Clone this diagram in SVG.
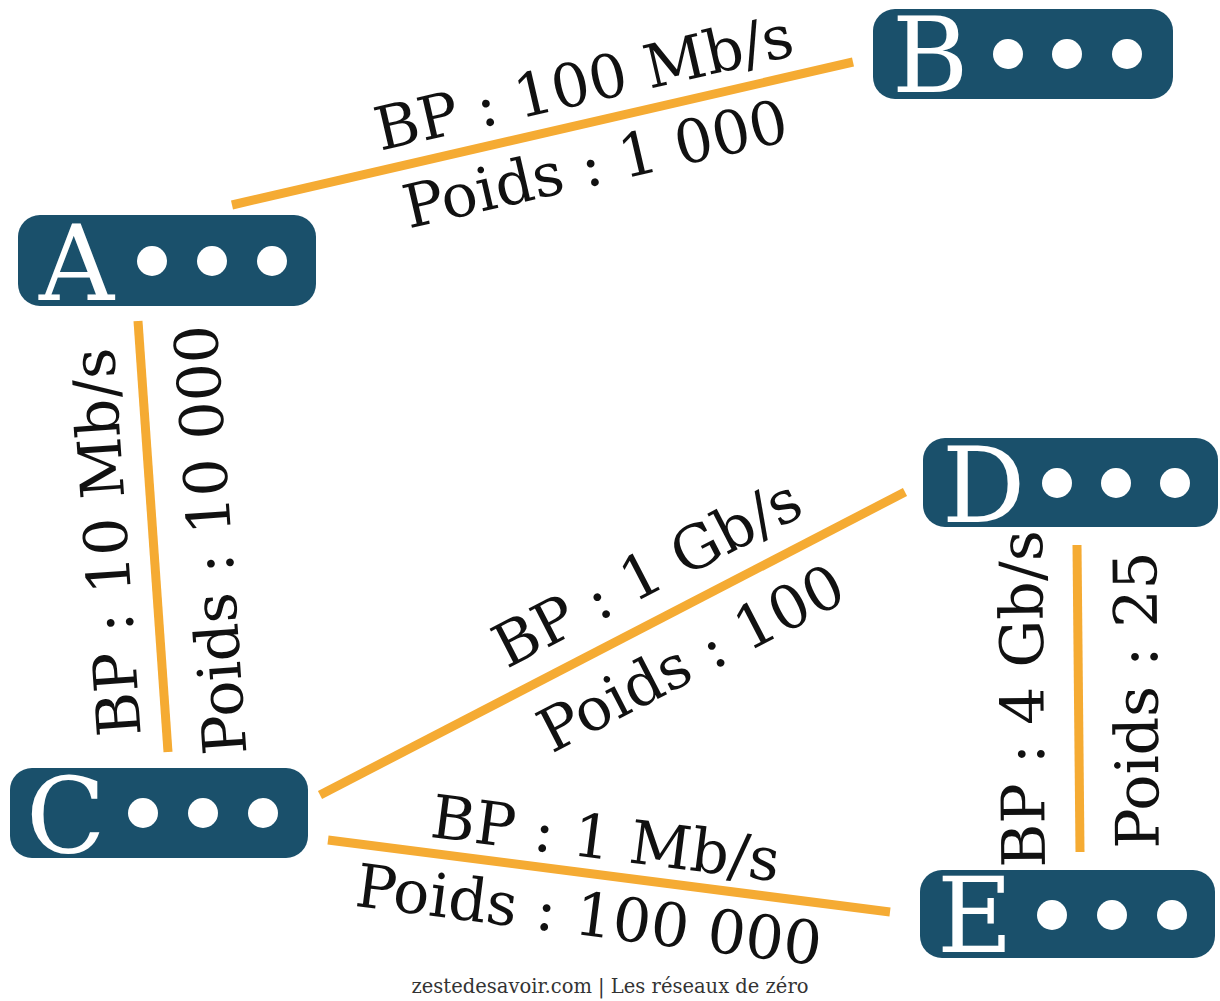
<svg xmlns="http://www.w3.org/2000/svg" width="1220" height="1001" viewBox="0 0 1220 1001">
<style>
.box{fill:#1a506b}
.dot{fill:#ffffff}
.ltr{font-family:"DejaVu Serif","Liberation Serif",serif;font-size:104px;fill:#ffffff}
.edge{stroke:#f5ab33;stroke-width:9;stroke-linecap:butt;fill:none}
.lbl{font-family:"DejaVu Serif","Liberation Serif",serif;font-size:60px;fill:#111111;text-anchor:middle}
.foot{font-family:"DejaVu Serif","Liberation Serif",serif;font-size:19.5px;fill:#333333;text-anchor:middle}
</style>
<rect width="1220" height="1001" fill="#ffffff"/>
<g id="connectors">
<line class="edge" x1="232" y1="205" x2="853" y2="62"/>
<line class="edge" x1="138" y1="321" x2="168" y2="752"/>
<line class="edge" x1="320" y1="795" x2="905" y2="492"/>
<line class="edge" x1="328" y1="840" x2="890" y2="912"/>
<line class="edge" x1="1077" y1="545" x2="1080" y2="852"/>
</g>
<g id="labels">
<g transform="translate(542,133) rotate(-13)"><text class="lbl" x="52" y="-19">BP : 100 Mb/s</text><text class="lbl" x="45" y="63">Poids : 1 000</text></g>
<g transform="translate(153,536) rotate(-94)"><text class="lbl" x="-3" y="-26">BP : 10 Mb/s</text><text class="lbl" x="-8" y="78">Poids : 10 000</text></g>
<g transform="translate(612.5,643.5) rotate(-27.4)"><text class="lbl" x="63" y="-26">BP : 1 Gb/s</text><text class="lbl" x="63" y="70">Poids : 100</text></g>
<g transform="translate(609,876) rotate(7.3)"><text class="lbl" x="-8" y="-16">BP : 1 Mb/s</text><text class="lbl" x="-15" y="62">Poids : 100 000</text></g>
<g transform="translate(1078.5,698.5) rotate(-90.5)"><text class="lbl" x="0" y="-35">BP : 4 Gb/s</text><text class="lbl" x="-2" y="79">Poids : 25</text></g>
</g>
<g id="node-A">
<rect class="box" x="18" y="215" width="298" height="91" rx="22"/>
<text class="ltr" x="39" y="300">A</text>
<circle class="dot" cx="152" cy="261" r="15"/><circle class="dot" cx="212" cy="261" r="15"/><circle class="dot" cx="272" cy="261" r="15"/>
</g>
<g id="node-B">
<rect class="box" x="873" y="9" width="300" height="90" rx="22"/>
<text class="ltr" x="892" y="92">B</text>
<circle class="dot" cx="1008" cy="54" r="15"/><circle class="dot" cx="1067" cy="54" r="15"/><circle class="dot" cx="1127" cy="54" r="15"/>
</g>
<g id="node-C">
<rect class="box" x="10" y="768" width="298" height="90" rx="22"/>
<text class="ltr" x="26" y="853">C</text>
<circle class="dot" cx="143" cy="813" r="15"/><circle class="dot" cx="203" cy="813" r="15"/><circle class="dot" cx="263" cy="813" r="15"/>
</g>
<g id="node-D">
<rect class="box" x="923" y="438" width="295" height="89" rx="22"/>
<text class="ltr" x="942" y="522">D</text>
<circle class="dot" cx="1057" cy="483" r="15"/><circle class="dot" cx="1116" cy="483" r="15"/><circle class="dot" cx="1175" cy="483" r="15"/>
</g>
<g id="node-E">
<rect class="box" x="920" y="870" width="295" height="88" rx="22"/>
<text class="ltr" x="937" y="952">E</text>
<circle class="dot" cx="1052" cy="915" r="15"/><circle class="dot" cx="1112" cy="915" r="15"/><circle class="dot" cx="1172" cy="915" r="15"/>
</g>
<text class="foot" x="610" y="993">zestedesavoir.com | Les réseaux de zéro</text>
</svg>
